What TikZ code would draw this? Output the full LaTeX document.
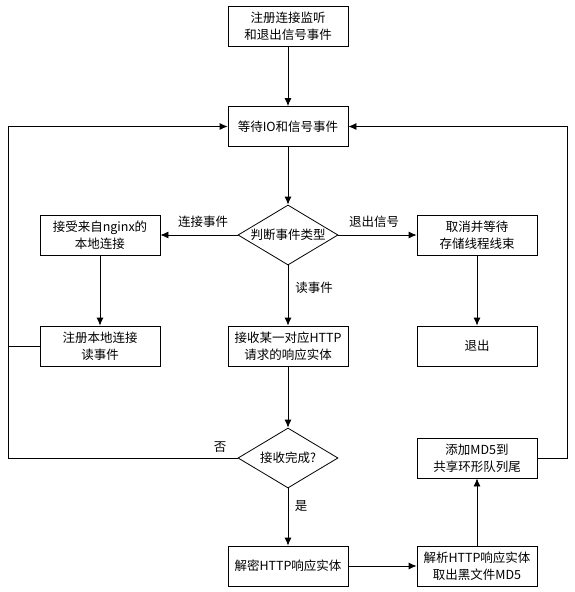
\documentclass[tikz,border=0pt]{standalone}
\usepackage{fontspec}
\newfontfamily\cjkfont{Noto Sans CJK SC}
\usetikzlibrary{arrows.meta}
\usetikzlibrary{shapes.geometric}

\tikzstyle{box} = [draw, line width=0.8pt, minimum width=120pt, minimum height=40pt,
  inner sep=0pt, align=center, font=\cjkfont\fontsize{12.5}{17}\selectfont]
\tikzstyle{decision} = [diamond, draw, line width=0.8pt, minimum width=100pt,
  minimum height=60pt, aspect=1.667, inner sep=0pt, align=center,
  font=\cjkfont\fontsize{12.5}{17}\selectfont]
\tikzstyle{lbl} = [inner sep=0pt, font=\cjkfont\fontsize{12.5}{17}\selectfont]
\tikzstyle{arrow} = [line width=0.8pt, -{Latex[length=8pt,width=7pt]}]
\tikzstyle{line} = [line width=0.8pt]

\begin{document}
\begin{tikzpicture}[x=1pt, y=-1pt]

    \useasboundingbox (0,0) rectangle (575,592); % keeps the page size

    % middle column
    \node[box] (reg)     at (288,26)    {注册连接监听\\和退出信号事件};
    \node[box] (wait)    at (288,126.5) {等待IO和信号事件};
    \node[decision] (judge) at (288,235) {判断事件类型};
    \node[box] (recv)    at (288,346)   {接收某一对应HTTP\\请求的响应实体};
    \node[decision] (done)  at (288,458) {接收完成?};
    \node[box] (decrypt) at (288,566)   {解密HTTP响应实体};

    % left column
    \node[box] (accept)  at (100,235)   {接受来自nginx的\\本地连接};
    \node[box] (regread) at (100,346)   {注册本地连接\\读事件};

    % right column
    \node[box] (cancel)  at (477,235)   {取消并等待\\存储线程线束};
    \node[box] (quit)    at (477,346)   {退出};
    \node[box] (md5q)    at (477,458)   {添加MD5到\\共享环形队列尾};
    \node[box] (parse)   at (477,566)   {解析HTTP响应实体\\取出黑文件MD5};

    % labels
    \node[lbl] (lconn) at (203,222) {连接事件};
    \node[lbl] (lexit) at (374,222) {退出信号};
    \node[lbl] (lread) at (314,288) {读事件};
    \node[lbl] (lno)   at (220,447) {否};
    \node[lbl] (lyes)  at (301,506) {是};

    \coordinate (LB) at (8,458);
    \coordinate (RB) at (567,458);

    \draw[arrow] (reg) -- (wait);
    \draw[arrow] (wait) -- (judge);
    \draw[arrow] (judge) -- (accept);
    \draw[arrow] (judge) -- (cancel);
    \draw[arrow] (judge) -- (recv);
    \draw[arrow] (accept) -- (regread);
    \draw[arrow] (cancel) -- (quit);
    \draw[arrow] (recv) -- (done);
    \draw[arrow] (done) -- (decrypt);
    \draw[arrow] (decrypt) -- (parse);
    \draw[arrow] (parse) -- (md5q);

    % the two loops back to the wait box
    \draw[arrow] (done.west) -- (LB) |- (wait.west);
    \draw[line] (regread.west) -- (regread.west -| LB);
    \draw[arrow] (md5q.east) -- (RB) |- (wait.east);

\end{tikzpicture}
\end{document}
